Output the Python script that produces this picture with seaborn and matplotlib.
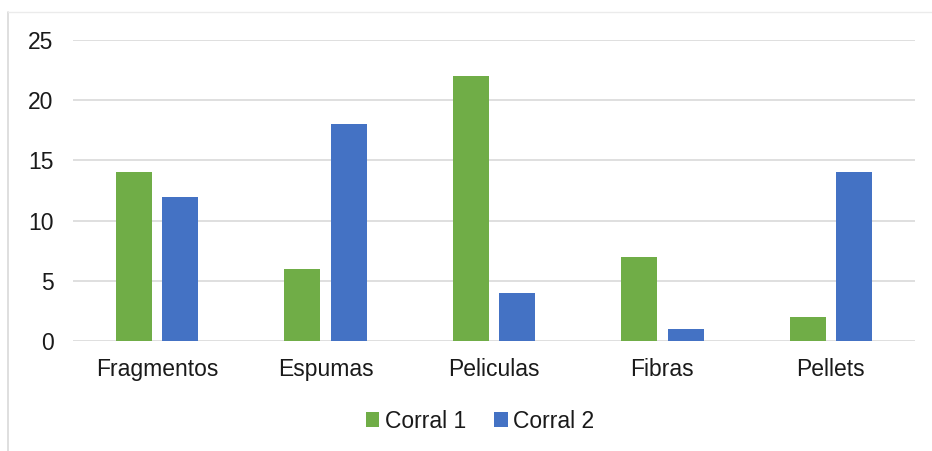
import matplotlib
matplotlib.use("Agg")
import matplotlib.pyplot as plt
import seaborn as sns
import pandas as pd
from matplotlib.patches import Patch
from matplotlib.lines import Line2D

categories = ["Fragmentos", "Espumas", "Peliculas", "Fibras", "Pellets"]
corral_1 = [14, 6, 22, 7, 2]
corral_2 = [12, 18, 4, 1, 14]
series_names = ["Corral 1", "Corral 2"]
y_ticks = [0, 5, 10, 15, 20, 25]

colors = ["#70AD47", "#4472C4"]

df = pd.DataFrame({
    "categoria": categories * 2,
    "valor": corral_1 + corral_2,
    "serie": [series_names[0]] * len(categories) + [series_names[1]] * len(categories),
})

sns.set_theme(style="white")
plt.rcParams["font.family"] = ["Liberation Sans", "DejaVu Sans"]

fig = plt.figure(figsize=(9.32, 4.51), dpi=100)
ax = fig.add_axes([0.0783, 0.2439, 0.9035, 0.6674])

sns.barplot(data=df, x="categoria", y="valor", hue="serie", order=categories,
            hue_order=series_names, palette=colors, width=0.55, gap=0.22,
            saturation=1, linewidth=0, ax=ax, legend=False)

ax.set_ylim(0, 25)
ax.set_xlim(-0.5, len(categories) - 0.5)
ax.set_yticks(y_ticks)
ax.set_yticklabels([str(t) for t in y_ticks])
ax.yaxis.grid(True, color="#D9D9D9", linewidth=1.2)
ax.set_axisbelow(True)
for s in ax.spines.values():
    s.set_visible(False)
ax.tick_params(axis="both", length=0, labelsize=16.5, labelcolor="#1a1a1a")
ax.tick_params(axis="y", pad=14)
ax.tick_params(axis="x", pad=12)
ax.set_xlabel("")
ax.set_ylabel("")

handles = [Patch(facecolor=c, edgecolor="none") for c in colors]
fig.legend(handles, series_names, loc="center", bbox_to_anchor=(0.515, 0.066),
           ncol=2, frameon=False, fontsize=16.5, handlelength=0.6, handleheight=0.6,
           handletextpad=0.25, columnspacing=1.2, labelcolor="#1a1a1a")

# chart-area border
fig.add_artist(Line2D([0.0086, 0.0086], [0.0, 0.9734], color="#D9D9D9", linewidth=1.2,
                      transform=fig.transFigure))
fig.add_artist(Line2D([0.0086, 1.0], [0.9734, 0.9734], color="#EBEBEB", linewidth=1.0,
                      transform=fig.transFigure))

fig.savefig("out.png", dpi=100, facecolor="white")
